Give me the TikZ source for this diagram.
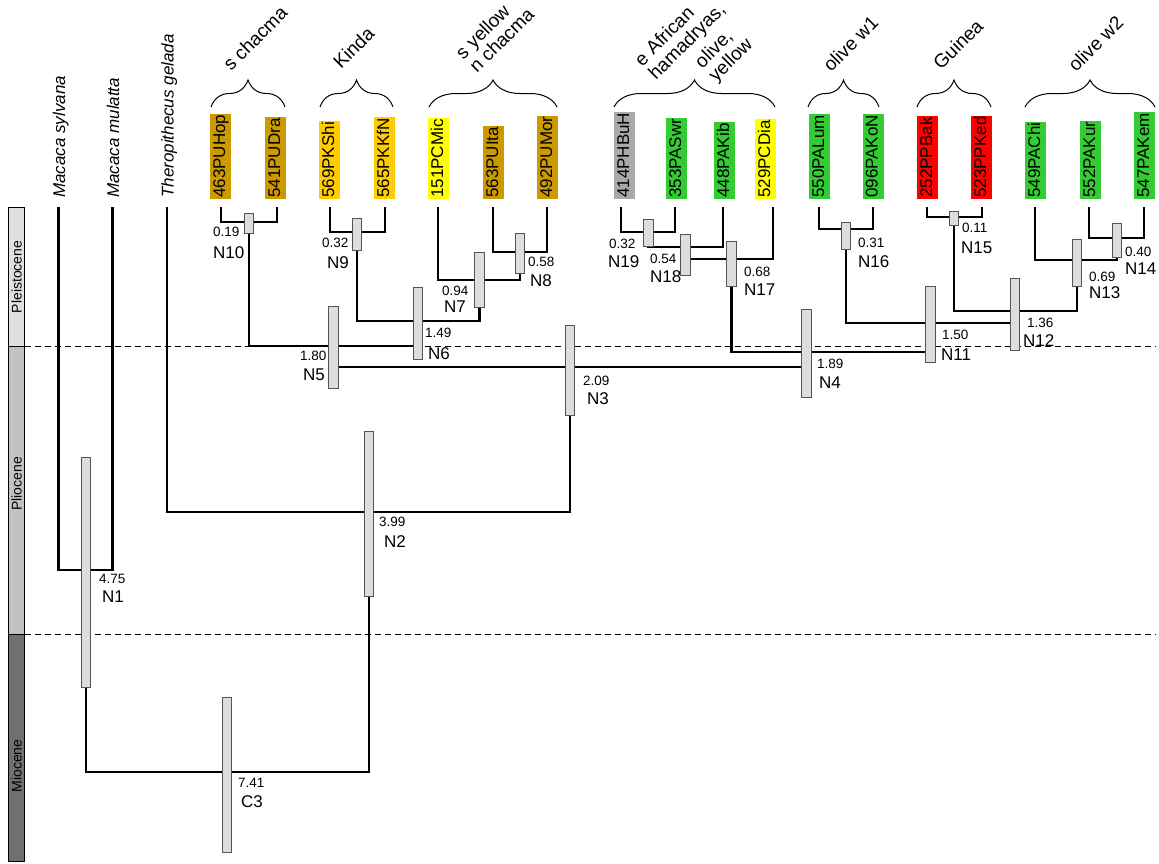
\documentclass[tikz,border=0pt]{standalone}
\usepackage{fontspec}
\setmainfont{Liberation Sans}
\usetikzlibrary{decorations.pathreplacing}
\definecolor{cBrown}{HTML}{CC9900}
\definecolor{cGold}{HTML}{FFCC00}
\definecolor{cYel}{HTML}{FFFF00}
\definecolor{cGrey}{HTML}{AAAAAA}
\definecolor{cGreen}{HTML}{33CC33}
\definecolor{cRed}{HTML}{FF0000}
\definecolor{barfill}{HTML}{DDDDDD}
\definecolor{barline}{HTML}{555555}
\definecolor{epPle}{HTML}{E0E0E0}
\definecolor{epPli}{HTML}{C2C2C2}
\definecolor{epMio}{HTML}{707070}
\newcommand{\hpdrect}[3]{\draw[hpdbar] ({#1-4.75},#2) rectangle ({#1+4.75},#3);}
\begin{document}
\begin{tikzpicture}[x=1pt,y=-1pt,
  branch/.style={line width=2.5pt, black},
  hpdbar/.style={fill=barfill, draw=barline, line width=1pt},
  epochbox/.style={draw=black, line width=1pt},
  epochlbl/.style={rotate=90, font=\fontsize{14}{14}\selectfont, inner sep=0pt},
  boundary/.style={line width=1pt, dash pattern=on 6pt off 4pt},
  tipbox/.style={rotate=90, anchor=west, inner xsep=1pt, inner ysep=1pt,
    text height=14pt, text depth=5pt, font=\fontsize{17}{17}\selectfont},
  outlbl/.style={rotate=90, anchor=base west, inner sep=0pt, font=\fontsize{17}{17}\selectfont\itshape},
  grplbl/.style={rotate=45, anchor=base west, inner sep=0pt, align=left, font=\fontsize{19}{19.5}\selectfont},
  grpbrace/.style={decorate, decoration={brace, amplitude=27pt}, line width=1pt},
  agelbl/.style={anchor=west, inner sep=0pt, font=\fontsize{13.5}{13.5}\selectfont},
  namelbl/.style={anchor=west, inner sep=0pt, font=\fontsize{17}{17}\selectfont}
]
\useasboundingbox (0,0) rectangle (1159,863);

% epoch bar
\fill[epPle] (8.5,207) rectangle (24.5,346);
\fill[epPli] (8.5,346) rectangle (24.5,634);
\fill[epMio] (8.5,634) rectangle (24.5,861);
\draw[epochbox] (8.5,207) rectangle (24.5,861);
\draw[epochbox] (8.5,346) -- (24.5,346);
\draw[epochbox] (8.5,634) -- (24.5,634);
\node[epochlbl] (ple) at (16.5,277) {Pleistocene};
\node[epochlbl] (pli) at (16.5,484) {Pliocene};
\node[epochlbl] (mio) at (16.5,766) {Miocene};

% epoch boundaries
\draw[boundary] (24.5,346) -- (1155,346);
\draw[boundary] (24.5,634) -- (1155,634);

% tip coordinates
\coordinate (tMs) at (58.5,207);
\coordinate (tMm) at (112.5,207);
\coordinate (tTg) at (167,207);
\coordinate (t463) at (221,207);
\coordinate (t541) at (277,207);
\coordinate (t569) at (330,207);
\coordinate (t565) at (385,207);
\coordinate (t151) at (438,207);
\coordinate (t563) at (493,207);
\coordinate (t492) at (547,207);
\coordinate (t414) at (621,207);
\coordinate (t353) at (675,207);
\coordinate (t448) at (723,207);
\coordinate (t529) at (773,207);
\coordinate (t550) at (819,207);
\coordinate (t096) at (873,207);
\coordinate (t252) at (927,207);
\coordinate (t523) at (982,207);
\coordinate (t549) at (1035,207);
\coordinate (t552) at (1089,207);
\coordinate (t547) at (1144,207);

% internal nodes
\coordinate (N10) at (249,222);
\coordinate (N9) at (357,232);
\coordinate (N8) at (520,252);
\coordinate (N7) at (479.5,280);
\coordinate (N6) at (418,321);
\coordinate (N5) at (333.5,346);
\coordinate (N19) at (648.5,232);
\coordinate (N18) at (685.5,247);
\coordinate (N17) at (731.5,259);
\coordinate (N16) at (846,229);
\coordinate (N15) at (954,217);
\coordinate (N14) at (1117,238);
\coordinate (N13) at (1077,260);
\coordinate (N12) at (1015,311);
\coordinate (N11) at (930.5,323);
\coordinate (N4) at (806.5,352);
\coordinate (N3) at (570,367);
\coordinate (N2) at (369,512);
\coordinate (N1) at (86,570);
\coordinate (C3) at (227,772);

% branches
\draw[branch] (t463) |- (N10) -| (t541);
\draw[branch] (t569) |- (N9) -| (t565);
\draw[branch] (t563) |- (N8) -| (t492);
\draw[branch] (t151) |- (N7) -| (N8);
\draw[branch] (N9) |- (N6) -| (N7);
\draw[branch] (N10) |- (N5) -| (N6);
\draw[branch] (t414) |- (N19) -| (t353);
\draw[branch] (N19) |- (N18) -| (t448);
\draw[branch] (N18) |- (N17) -| (t529);
\draw[branch] (t550) |- (N16) -| (t096);
\draw[branch] (t252) |- (N15) -| (t523);
\draw[branch] (t552) |- (N14) -| (t547);
\draw[branch] (t549) |- (N13) -| (N14);
\draw[branch] (N15) |- (N12) -| (N13);
\draw[branch] (N16) |- (N11) -| (N12);
\draw[branch] (N17) |- (N4) -| (N11);
\draw[branch] (N5) |- (N3) -| (N4);
\draw[branch] (tTg) |- (N2) -| (N3);
\draw[branch] (tMs) |- (N1) -| (tMm);
\draw[branch] (N1) |- (C3) -| (N2);

% HPD bars
\hpdrect{249}{213}{233}
\hpdrect{357}{218}{250}
\hpdrect{520}{233}{273}
\hpdrect{479.5}{252}{307}
\hpdrect{418}{287}{359}
\hpdrect{333.5}{306}{388}
\hpdrect{570}{325}{415}
\hpdrect{648.5}{219}{246}
\hpdrect{685.5}{234}{275}
\hpdrect{731.5}{241}{286}
\hpdrect{846}{222}{249}
\hpdrect{954}{211}{225}
\hpdrect{1117}{223}{257}
\hpdrect{1077}{239}{286}
\hpdrect{1015}{278}{350}
\hpdrect{930.5}{286}{362}
\hpdrect{806.5}{309}{397}
\hpdrect{369}{431}{596}
\hpdrect{86}{457}{687}
\hpdrect{227}{697}{852}

% node labels
\node[agelbl] (a10) at (213,232) {0.19};  \node[namelbl] (n10) at (213,253) {N10};
\node[agelbl] (a9) at (322,243) {0.32};   \node[namelbl] (n9) at (327,263) {N9};
\node[agelbl] (a8) at (528,262) {0.58};   \node[namelbl] (n8) at (530,281) {N8};
\node[agelbl] (a7) at (442,291) {0.94};   \node[namelbl] (n7) at (444,307) {N7};
\node[agelbl] (a6) at (425,333) {1.49};   \node[namelbl] (n6) at (428,354) {N6};
\node[agelbl] (a5) at (300,356) {1.80};   \node[namelbl] (n5) at (303,375) {N5};
\node[agelbl] (a3) at (583,381) {2.09};   \node[namelbl] (n3) at (587,399) {N3};
\node[agelbl] (a19) at (609,244) {0.32};  \node[namelbl] (n19) at (608,262) {N19};
\node[agelbl] (a18) at (650,259) {0.54};  \node[namelbl] (n18) at (650,277) {N18};
\node[agelbl] (a17) at (744,272) {0.68};  \node[namelbl] (n17) at (744,290) {N17};
\node[agelbl] (a16) at (858,243) {0.31};  \node[namelbl] (n16) at (858,262) {N16};
\node[agelbl] (a15) at (962,228) {0.11};  \node[namelbl] (n15) at (961,248) {N15};
\node[agelbl] (a14) at (1125,252) {0.40}; \node[namelbl] (n14) at (1125,269) {N14};
\node[agelbl] (a13) at (1089,277) {0.69}; \node[namelbl] (n13) at (1089,293) {N13};
\node[agelbl] (a12) at (1027,323) {1.36}; \node[namelbl] (n12) at (1023,341) {N12};
\node[agelbl] (a11) at (942,335) {1.50};  \node[namelbl] (n11) at (941,355) {N11};
\node[agelbl] (a4) at (817,364) {1.89};   \node[namelbl] (n4) at (819,383) {N4};
\node[agelbl] (a2) at (379,522) {3.99};   \node[namelbl] (n2) at (384,542) {N2};
\node[agelbl] (a1) at (99,579) {4.75};    \node[namelbl] (n1) at (102,597) {N1};
\node[agelbl] (ac3) at (238,783) {7.41};  \node[namelbl] (nc3) at (241,802) {C3};

% outgroup labels
\node[outlbl] (lMs) at (65,198) {Macaca sylvana};
\node[outlbl] (lMm) at (119,198) {Macaca mulatta};
\node[outlbl] (lTg) at (173.5,198) {Theropithecus gelada};

% tip labels
\node[tipbox, fill=cBrown] (b463) at (220.5,199) {463PUHop};
\node[tipbox, fill=cBrown] (b541) at (275.5,199) {541PUDra};
\node[tipbox, fill=cGold] (b569) at (329.5,199) {569PKShi};
\node[tipbox, fill=cGold] (b565) at (384.5,199) {565PKKfN};
\node[tipbox, fill=cYel] (b151) at (438.5,199) {151PCMic};
\node[tipbox, fill=cBrown] (b563) at (493.5,199) {563PUIta};
\node[tipbox, fill=cBrown] (b492) at (547.5,199) {492PUMor};
\node[tipbox, fill=cGrey] (b414) at (624.5,199) {414PHBuH};
\node[tipbox, fill=cGreen] (b353) at (676.5,199) {353PASwr};
\node[tipbox, fill=cGreen] (b448) at (724.5,199) {448PAKib};
\node[tipbox, fill=cYel] (b529) at (765.5,199) {529PCDia};
\node[tipbox, fill=cGreen] (b550) at (819.5,199) {550PALum};
\node[tipbox, fill=cGreen] (b096) at (873,199) {096PAKoN};
\node[tipbox, fill=cRed] (b252) at (927.5,199) {252PPBak};
\node[tipbox, fill=cRed] (b523) at (981.5,199) {523PPKed};
\node[tipbox, fill=cGreen] (b549) at (1035.5,199) {549PAChi};
\node[tipbox, fill=cGreen] (b552) at (1090.5,199) {552PAKur};
\node[tipbox, fill=cGreen] (b547) at (1144.5,199) {547PAKem};

% group braces
\draw[grpbrace] (211,107) -- (285,107);
\draw[grpbrace] (320,107) -- (393,107);
\draw[grpbrace] (429,107) -- (557,107);
\draw[grpbrace] (614,107) -- (775,107);
\draw[grpbrace] (808,107) -- (879,107);
\draw[grpbrace] (917,107) -- (991,107);
\draw[grpbrace] (1025,107) -- (1155,107);

% group labels (multi-line: anchor at start of last line)
\node[grplbl] (g1) at (231,72) {s chacma};
\node[grplbl] (g2) at (341,70) {Kinda};
\node[grplbl] (g3) at (477,74) {s yellow\\n chacma};
\node[grplbl] (g4a) at (656,81) {e African\\hamadryas,};
\node[grplbl] (g4b) at (716,83) {olive,\\yellow};
\node[grplbl] (g5) at (831,73) {olive w1};
\node[grplbl] (g6) at (941,71) {Guinea};
\node[grplbl] (g7) at (1076,73) {olive w2};
\end{tikzpicture}
\end{document}
